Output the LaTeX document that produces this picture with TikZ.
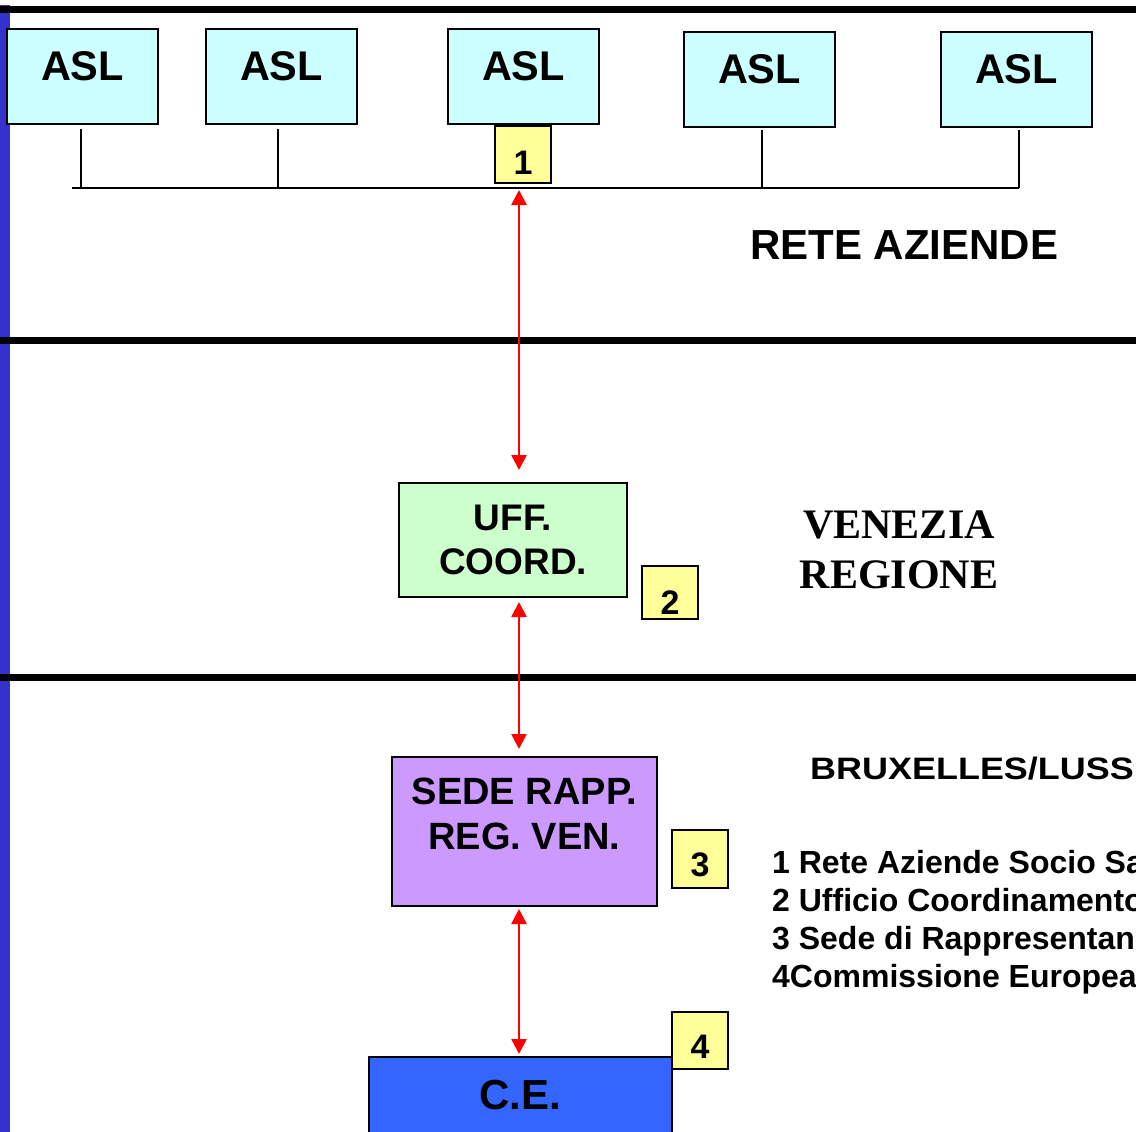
\documentclass[tikz,border=0pt]{standalone}
\usepackage{fontspec}
\setmainfont{Liberation Sans}
\newfontfamily\serifbf{Liberation Serif}
\newfontfamily\widesans[FakeStretch=1.16]{Liberation Sans}
\usetikzlibrary{arrows.meta}
\definecolor{barblue}{HTML}{3333CC}
\definecolor{aslfill}{HTML}{CCFFFF}
\definecolor{ufffill}{HTML}{CCFFCC}
\definecolor{sedefill}{HTML}{CC99FF}
\definecolor{cefill}{HTML}{3366FF}
\definecolor{numfill}{HTML}{FFFF99}
\definecolor{arrred}{HTML}{FF0000}
\tikzset{
  boxbase/.style={draw=black, line width=2pt, inner sep=0pt, anchor=north west},
  aslbox/.style={boxbase, fill=aslfill, minimum width=151pt, text height=52pt, text depth=43pt,
    font=\fontsize{41.5}{48}\selectfont\bfseries},
  numbox/.style={boxbase, fill=numfill, minimum width=56pt,
    font=\fontsize{34}{40}\selectfont\bfseries},
  bigbox/.style={boxbase, font=\fontsize{37}{44}\selectfont\bfseries},
  sepline/.style={line width=7pt, black},
  thinline/.style={line width=2pt, black},
  redarrow/.style={line width=2.5pt, arrred, {Triangle[length=15pt,width=15pt]}-{Triangle[length=15pt,width=15pt]}},
  plaintext/.style={inner sep=0pt, text=black}
}
\begin{document}
\begin{tikzpicture}[x=1pt,y=-1pt]
\clip (0,0) rectangle (1136,1132);
\fill[white] (0,0) rectangle (1136,1132);
\fill[barblue] (0,5) rectangle (9.5,1132);
% separators
\draw[sepline] (0,9.5) -- (1136,9.5);
\draw[sepline] (0,340.5) -- (1136,340.5);
\draw[sepline] (0,677.5) -- (1136,677.5);

% ASL boxes
\node[aslbox] (asl1) at (6,28) {ASL};
\node[aslbox] (asl2) at (205,28) {ASL};
\node[aslbox] (asl3) at (447,28) {ASL};
\node[aslbox] (asl4) at (683,31) {ASL};
\node[aslbox] (asl5) at (940,31) {ASL};

% bus
\coordinate (busL) at (72,188);
\coordinate (busR) at (1019,188);
\coordinate (busA) at (519,188);
\coordinate (s1t) at (81,129);   \coordinate (s1b) at (81,188);
\coordinate (s2t) at (278,129);  \coordinate (s2b) at (278,188);
\coordinate (s4t) at (762,130);  \coordinate (s4b) at (762,188);
\coordinate (s5t) at (1019,130); \coordinate (s5b) at (1019,188);
\draw[thinline] (s1t) -- (s1b);
\draw[thinline] (s2t) -- (s2b);
\draw[thinline] (s4t) -- (s4b);
\draw[thinline] (s5t) -- (s5b);
\draw[thinline] (busL) -- (busR);

% number boxes
\node[numbox, text height=48pt, text depth=9pt] (n1) at (494,125) {1};
\node[numbox, text height=48pt, text depth=5pt] (n2) at (641,565) {2};
\node[numbox, text height=46pt, text depth=12pt] (n3) at (671,829) {3};
\node[numbox, text height=46pt, text depth=11pt] (n4) at (671,1011) {4};

% main boxes
\node[bigbox, fill=ufffill, minimum width=228pt, text height=47pt, text depth=67pt] (uff) at (398,482)
  {\begin{tabular}[t]{@{}c@{}}UFF.\\COORD.\end{tabular}};
\node[bigbox, fill=sedefill, minimum width=265pt, text height=47pt, text depth=102pt,
  font=\fontsize{38}{45}\selectfont\bfseries] (sede) at (391,756)
  {\begin{tabular}[t]{@{}c@{}}SEDE RAPP.\\REG. VEN.\end{tabular}};
\node[bigbox, fill=cefill, minimum width=303pt, text height=52pt, text depth=40pt,
  font=\fontsize{42}{48}\selectfont\bfseries] (ce) at (368,1056) {C.E.};

% arrows
\draw[redarrow, shorten <=2pt, shorten >=12pt] (busA) -- (busA |- uff.north);
\draw[redarrow, shorten <=4pt, shorten >=7pt] (busA |- uff.south) -- (busA |- sede.north);
\draw[redarrow, shorten <=2pt, shorten >=2pt] (busA |- sede.south) -- (busA |- ce.north);

% texts
\node[plaintext, anchor=base west, font=\fontsize{42}{50}\selectfont\bfseries] (rete) at (750,259) {RETE AZIENDE};
\node[plaintext, anchor=base, font=\serifbf\fontsize{42}{50}\selectfont\bfseries] (ven) at (899,538)
  {\begin{tabular}[t]{@{}c@{}}VENEZIA\\REGIONE\end{tabular}};
\node[plaintext, anchor=base west, font=\widesans\fontsize{31}{40}\selectfont\bfseries] (brux) at (810,779) {BRUXELLES/LUSS};
\node[plaintext, anchor=base west, font=\fontsize{32}{38}\selectfont\bfseries] (legend) at (772,873)
  {\begin{tabular}[t]{@{}l@{}}1 Rete Aziende Socio Sa\\2 Ufficio Coordinamento\\3 Sede di Rappresentan\\4Commissione Europea\end{tabular}};
\end{tikzpicture}
\end{document}
